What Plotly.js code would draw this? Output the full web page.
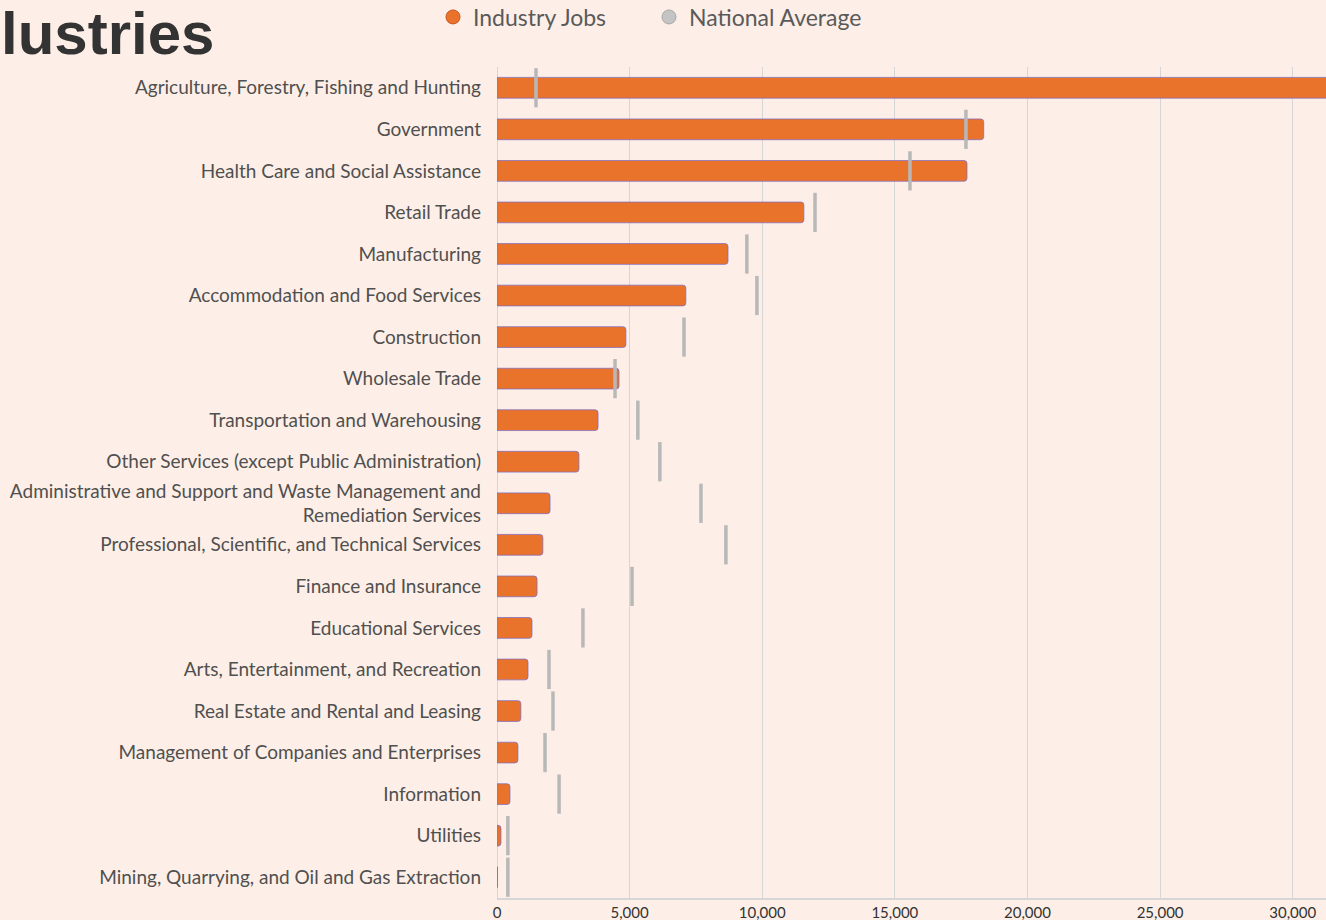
<!DOCTYPE html>
<html>
<head>
<meta charset="utf-8">
<script src="https://cdn.plot.ly/plotly-3.0.1.min.js"></script>
<style>
html,body{margin:0;padding:0;background:#fdefe7;overflow:hidden;}
#chart{width:1326px;height:920px;}
</style>
</head>
<body>
<div id="chart"></div>
<script>
const industries = [
  "Agriculture, Forestry, Fishing and Hunting",
  "Government",
  "Health Care and Social Assistance",
  "Retail Trade",
  "Manufacturing",
  "Accommodation and Food Services",
  "Construction",
  "Wholesale Trade",
  "Transportation and Warehousing",
  "Other Services (except Public Administration)",
  "Administrative and Support and Waste Management and<br>Remediation Services",
  "Professional, Scientific, and Technical Services",
  "Finance and Insurance",
  "Educational Services",
  "Arts, Entertainment, and Recreation",
  "Real Estate and Rental and Leasing",
  "Management of Companies and Enterprises",
  "Information",
  "Utilities",
  "Mining, Quarrying, and Oil and Gas Extraction"
];
const industryJobs = [32500, 18350, 17720, 11570, 8710, 7120, 4860, 4600, 3810, 3090, 2000, 1730, 1510, 1320, 1170, 900, 790, 490, 150, 20];
const nationalAverage = [1470, 17680, 15570, 11990, 9420, 9800, 7050, 4450, 5310, 6140, 7690, 8630, 5090, 3240, 1960, 2110, 1810, 2340, 410, 410];
const xTickVals = [0, 5000, 10000, 15000, 20000, 25000, 30000];
const xTickText = ["0", "5,000", "10,000", "15,000", "20,000", "25,000", "30,000"];
const seriesNames = ["Industry Jobs", "National Average"];
const titleText = "lustries";

const orange = "#ea732c";
const traces = [
  {
    type: "bar", orientation: "h", y: industries, x: industryJobs,
    width: 0.5, showlegend: false, hoverinfo: "x+y",
    marker: {color: orange, cornerradius: 3, line: {color: "rgba(120,105,200,0.7)", width: 1}}
  },
  {
    type: "scatter", mode: "markers", y: industries, x: nationalAverage,
    showlegend: false, hoverinfo: "x+y",
    marker: {symbol: "line-ns", size: 28, color: "#b8b8b8", line: {width: 3.5, color: "#b8b8b8"}}
  },
  {
    type: "scatter", mode: "markers", x: [null], y: [null], name: seriesNames[0],
    marker: {symbol: "circle", size: 14, color: orange, line: {color: "#c9521a", width: 1}}
  },
  {
    type: "scatter", mode: "markers", x: [null], y: [null], name: seriesNames[1],
    marker: {symbol: "circle", size: 14, color: "#c4c4c4", line: {color: "#a8a8a8", width: 1}}
  }
];

const layout = {
  width: 1326, height: 920,
  paper_bgcolor: "#fdefe7", plot_bgcolor: "#fdefe7",
  margin: {l: 497, r: 0, t: 67, b: 22, pad: 0},
  font: {family: "Lato, 'Open Sans', sans-serif", color: "#444"},
  showlegend: true,
  legend: {
    orientation: "h", xref: "container", yref: "container",
    x: 433/1326, xanchor: "left", y: 1 - 17/920, yanchor: "middle",
    font: {size: 23, color: "#5a5a5a", family: "Lato, sans-serif"},
    bgcolor: "rgba(0,0,0,0)", itemclick: false,
    entrywidth: 171, entrywidthmode: "pixels"
  },
  xaxis: {
    range: [0, 31255], tickvals: xTickVals, ticktext: xTickText,
    showgrid: true, gridcolor: "#d6d6d6", gridwidth: 1,
    zeroline: true, zerolinecolor: "#d6d6d6", zerolinewidth: 1,
    showline: true, linecolor: "#d6d6d6", linewidth: 1.5,
    ticks: "", tickfont: {size: 15, color: "#333", family: "Lato, sans-serif"},
    fixedrange: true
  },
  yaxis: {
    range: [19.5, -0.5], ticks: "", showgrid: false, zeroline: false, showline: false,
    ticklabelstandoff: 15,
    tickfont: {size: 19, color: "#505050", family: "Lato, sans-serif"},
    fixedrange: true
  },
  annotations: [{
    text: "<b>" + titleText + "</b>", xref: "paper", yref: "paper",
    x: (-1 - 497)/829, xanchor: "left", y: 1, yanchor: "bottom",
    yshift: -2, showarrow: false,
    font: {size: 60, color: "#333", family: "'Liberation Sans', Arial, sans-serif"}
  }]
};

Plotly.newPlot("chart", traces, layout, {displayModeBar: false, staticPlot: true});
</script>
</body>
</html>
